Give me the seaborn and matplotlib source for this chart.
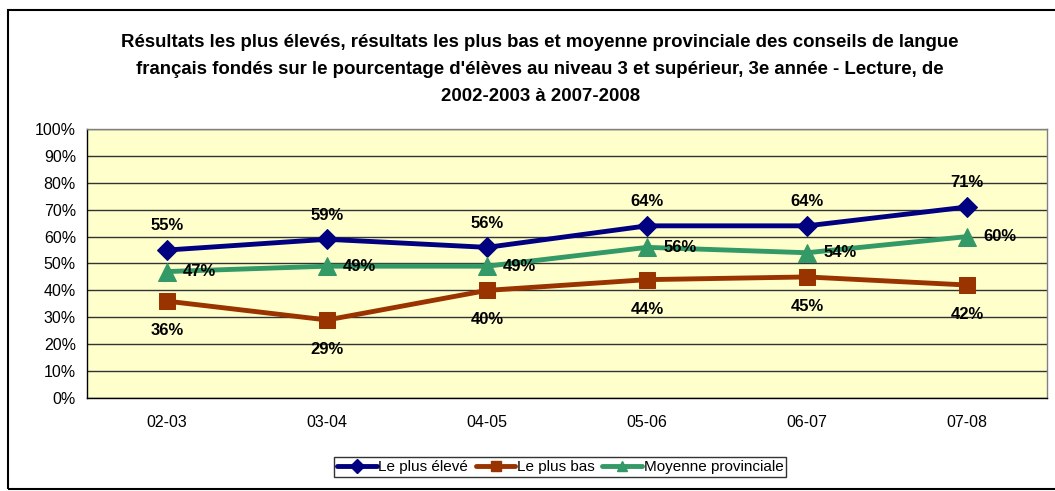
import matplotlib
matplotlib.use("Agg")
import matplotlib.pyplot as plt
from matplotlib.lines import Line2D
import seaborn as sns
import pandas as pd

categories = ["02-03", "03-04", "04-05", "05-06", "06-07", "07-08"]
high = [55, 59, 56, 64, 64, 71]
low = [36, 29, 40, 44, 45, 42]
avg = [47, 49, 49, 56, 54, 60]
series_names = ["Le plus élevé", "Le plus bas", "Moyenne provinciale"]
title = ("Résultats les plus élevés, résultats les plus bas et moyenne provinciale des conseils de langue\n"
         "français fondés sur le pourcentage d'élèves au niveau 3 et supérieur, 3e année - Lecture, de\n"
         "2002-2003 à 2007-2008")

sns.set_theme(style="white")
plt.rcParams['font.family'] = ['Liberation Sans', 'DejaVu Sans']
plt.rcParams['text.color'] = 'black'
plt.rcParams['xtick.color'] = 'black'
plt.rcParams['ytick.color'] = 'black'

df = pd.DataFrame({
    "x": list(range(len(categories))) * 3,
    "v": high + low + avg,
    "s": [series_names[0]] * 6 + [series_names[1]] * 6 + [series_names[2]] * 6,
})

colors = {series_names[0]: "#000080", series_names[1]: "#993300", series_names[2]: "#339966"}
markers = {series_names[0]: "D", series_names[1]: "s", series_names[2]: "^"}
msizes = {series_names[0]: 10, series_names[1]: 12, series_names[2]: 13}

fig = plt.figure(figsize=(10.55, 4.91), dpi=100)
ax = fig.add_axes([0.0825, 0.1894, 0.9100, 0.5479])
ax.set_facecolor("#FFFFCC")

for name in series_names:
    sub = df[df.s == name]
    sns.lineplot(data=sub, x="x", y="v", ax=ax, color=colors[name], marker=markers[name],
                 markersize=msizes[name], markeredgecolor=colors[name], linewidth=3.5,
                 legend=False)

for i, v in enumerate(high):
    ax.text(i, v + 9, f"{v}%", ha="center", va="center", fontsize=12, fontweight="bold")
for i, v in enumerate(low):
    ax.text(i, v - 11, f"{v}%", ha="center", va="center", fontsize=12, fontweight="bold")
for i, v in enumerate(avg):
    ax.text(i + 0.1, v, f"{v}%", ha="left", va="center", fontsize=12, fontweight="bold")

ax.set_xlim(-0.5, len(categories) - 0.5)
ax.set_ylim(0, 100)
ax.set_yticks(range(0, 101, 10))
ax.set_yticklabels([f"{t}%" for t in range(0, 101, 10)], fontsize=11.5)
ax.set_xticks(range(len(categories)))
ax.set_xticklabels(categories, fontsize=11.5)
ax.set_xticks([i - 0.5 for i in range(len(categories) + 1)], minor=True)
ax.tick_params(axis="x", which="major", length=0, pad=12)
ax.tick_params(axis="x", which="minor", length=5, width=1, color="black", direction="out")
ax.tick_params(axis="y", length=5, width=1, color="black", direction="out", pad=3)
ax.grid(axis="y", color="#333333", linewidth=1)
ax.set_axisbelow(True)
ax.set_xlabel("")
ax.set_ylabel("")
for sp in ["left", "bottom"]:
    ax.spines[sp].set_color("black")
    ax.spines[sp].set_linewidth(1)
for sp in ["top", "right"]:
    ax.spines[sp].set_color("#808080")
    ax.spines[sp].set_linewidth(1)

fig.text(0.512, 0.93, title, ha="center", va="top", fontsize=13.4, fontweight="bold",
         linespacing=1.75, color="black")

handles = [Line2D([0], [0], color=colors[n], marker=markers[n], markersize=7,
                  markeredgecolor=colors[n], linewidth=3.5) for n in series_names]
leg = fig.legend(handles, series_names, loc="center", bbox_to_anchor=(0.531, 0.049), ncol=3,
                 fontsize=11, frameon=True, fancybox=False, handlelength=2.6, handletextpad=0.1,
                 columnspacing=0.5, borderpad=0.2)
leg.get_frame().set_edgecolor("black")
leg.get_frame().set_linewidth(1)

border = plt.Rectangle((0.008, 0.004), 1.2, 0.975, transform=fig.transFigure, fill=False,
                       edgecolor="black", linewidth=1.5)
fig.patches.append(border)

fig.savefig("out.png", dpi=100)
